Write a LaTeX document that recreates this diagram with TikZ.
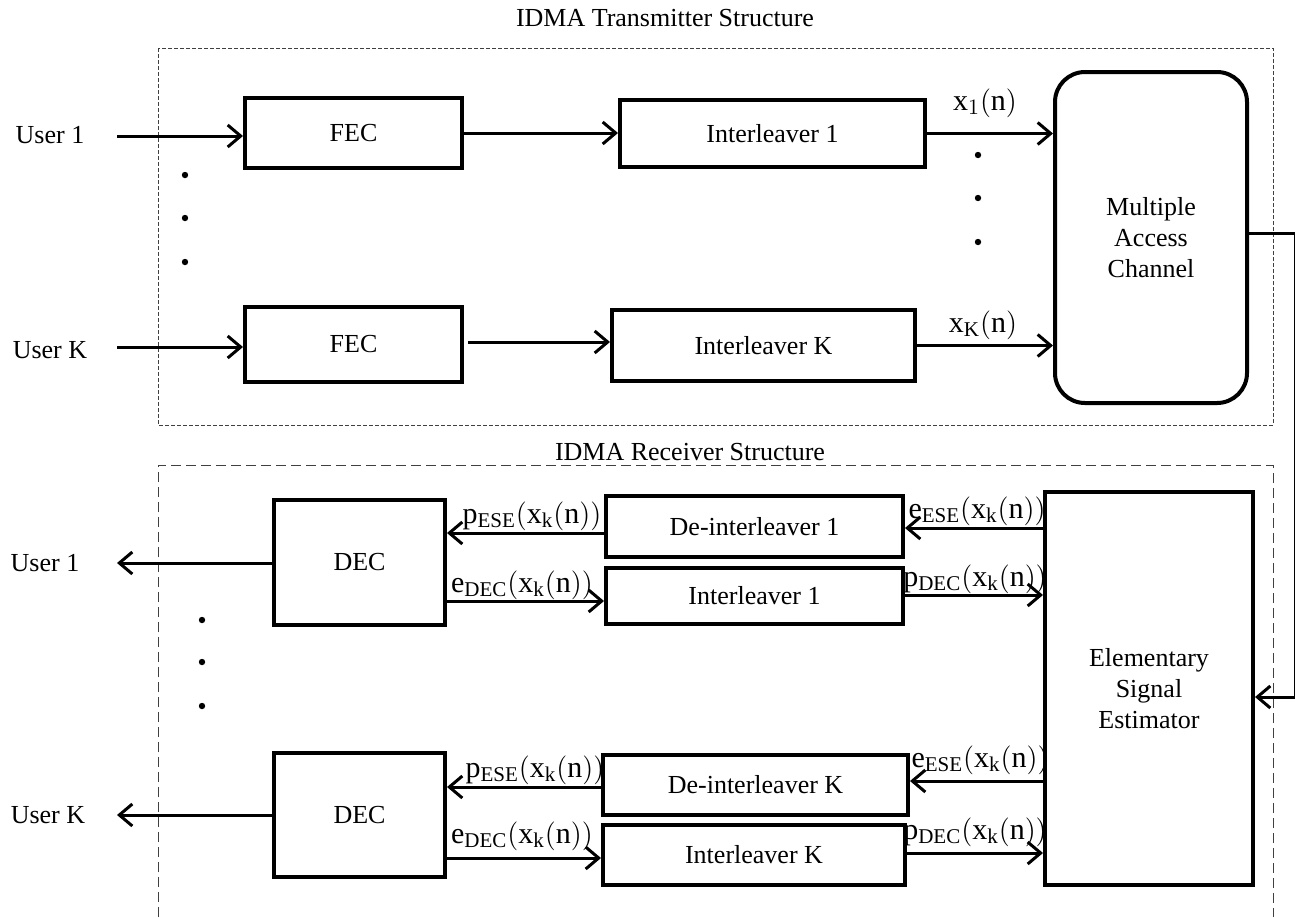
\documentclass[tikz,border=0pt]{standalone}
\usepackage{fontspec}
\setmainfont{Liberation Serif}
\usetikzlibrary{arrows.meta,calc}
\begin{document}
\begin{tikzpicture}[x=0.5pt,y=-0.5pt,
  font=\fontsize{13}{15.5}\selectfont,
  blk/.style={draw,line width=2pt,minimum width=#1,inner sep=0pt,align=center},
  arr/.style={line width=1.5pt,-{Straight Barb[length=6.5pt,width=11pt,line width=1.5pt]}},
  dot/.style={fill,circle,inner sep=0pt,minimum size=3.2pt},
  lbl/.style={inner sep=0pt},
  mlbl/.style={inner sep=0pt,font=\fontsize{15}{17}\selectfont},
  tdash/.style={draw=black!75,line width=0.5pt,dash pattern=on 2pt off 1pt},
  rdash/.style={draw=black!75,line width=0.5pt,dash pattern=on 5pt off 2.5pt}]
\useasboundingbox (0,0) rectangle (1295,917);

% ---------- Transmitter ----------
\node[lbl] (ttitle) at (665,18) {IDMA Transmitter Structure};
\draw[tdash] (158,48) rectangle (1273,425);

\node[lbl] (tu1) at (50,135) {User 1};
\node[lbl] (tuk) at (50,350) {User K};
\coordinate (tu1s) at (117,136);
\coordinate (tuks) at (117,347);

\node[blk=108.5pt,minimum height=35pt] (fec1) at (353.5,133) {FEC};
\node[blk=108.5pt,minimum height=37.5pt] (feck) at (353.5,344.5) {FEC};
\node[blk=152.5pt,minimum height=33.5pt] (il1) at (772.5,133.5) {Interleaver 1};
\node[blk=151.5pt,minimum height=35.5pt] (ilk) at (763.5,345.5) {Interleaver K};
\node[blk=96pt,minimum height=165.5pt,rounded corners=15pt] (mac) at (1151,237.5) {Multiple\\Access\\Channel};

\draw[arr] (tu1s) -- (tu1s -| fec1.west);
\draw[arr] (tuks) -- (tuks -| feck.west);
\draw[arr] (fec1.east) -- (fec1.east -| il1.west);
\draw[arr] ($(feck.east)+(4,-2.5)$) coordinate (fk) -- (fk -| ilk.west);
\draw[arr] (il1.east) -- (il1.east -| mac.west);
\draw[arr] (ilk.east) -- (ilk.east -| mac.west);

\node[mlbl] (lx1) at (985,103) {$\mathrm{x}_1(\mathrm{n})$};
\node[mlbl] (lxk) at (983,325) {$\mathrm{x}_{\mathrm{K}}(\mathrm{n})$};

\node[dot] (td1) at (978,155) {};
\node[dot] (td2) at (978,198) {};
\node[dot] (td3) at (978,242) {};
\node[dot] (ld1) at (185,175) {};
\node[dot] (ld2) at (185,218) {};
\node[dot] (ld3) at (185,262) {};

% ---------- Receiver ----------
\node[lbl] (rtitle) at (690,452) {IDMA Receiver Structure};
\draw[rdash] (158,917) -- (158,465) -- (1273,465) -- (1273,917);

\node[blk=85.5pt,minimum height=62.5pt] (dec1) at (359.5,562.5) {DEC};
\node[blk=85.5pt,minimum height=62pt] (deck) at (359.5,815) {DEC};
\node[blk=148.5pt,minimum height=30.5pt] (dil1) at (754.5,526.5) {De-interleaver 1};
\node[blk=148.5pt,minimum height=28pt] (ril1) at (754.5,596) {Interleaver 1};
\node[blk=152.5pt,minimum height=30pt] (dilk) at (755.5,785) {De-interleaver K};
\node[blk=151pt,minimum height=30pt] (rilk) at (754,855) {Interleaver K};
\node[blk=104pt,minimum height=196.5pt] (ese) at (1149,688.5) {Elementary\\Signal\\Estimator};

\node[lbl] (ru1) at (45,563) {User 1};
\node[lbl] (ruk) at (48,815) {User K};
\coordinate (ru1e) at (117,563);
\coordinate (ruke) at (117,815);
\draw[arr] (ru1e -| dec1.west) -- (ru1e);
\draw[arr] (ruke -| deck.west) -- (ruke);

% user 1 loop
\draw[arr] ($(dil1.west)+(0,6.5)$) coordinate (a1) -- (a1 -| dec1.east);
\draw[arr] ($(dec1.east)+(0,38.5)$) coordinate (a2) -- (a2 -| ril1.west);
\draw[arr] ($(ese.west)+(0,-160.5)$) coordinate (a3) -- (a3 -| dil1.east);
\draw[arr] ($(ril1.east)+(0,-1)$) coordinate (a4) -- (a4 -| ese.west);
% user K loop
\draw[arr] ($(dilk.west)+(0,2)$) coordinate (b1) -- (b1 -| deck.east);
\draw[arr] ($(deck.east)+(0,43)$) coordinate (b2) -- (b2 -| rilk.west);
\draw[arr] ($(ese.west)+(0,92.5)$) coordinate (b3) -- (b3 -| dilk.east);
\draw[arr] ($(rilk.east)+(0,-2)$) coordinate (b4) -- (b4 -| ese.west);

\node[mlbl] (lp1) at (532,516) {$\mathrm{p}_{\mathrm{ESE}}\bigl(\mathrm{x}_{\mathrm{k}}(\mathrm{n})\bigr)$};
\node[mlbl] (le1) at (522,585) {$\mathrm{e}_{\mathrm{DEC}}\bigl(\mathrm{x}_{\mathrm{k}}(\mathrm{n})\bigr)$};
\node[mlbl] (le2) at (977,511) {$\mathrm{e}_{\mathrm{ESE}}\bigl(\mathrm{x}_{\mathrm{k}}(\mathrm{n})\bigr)$};
\node[mlbl] (lp2) at (975,579) {$\mathrm{p}_{\mathrm{DEC}}\bigl(\mathrm{x}_{\mathrm{k}}(\mathrm{n})\bigr)$};
\node[mlbl] (lp3) at (535,770) {$\mathrm{p}_{\mathrm{ESE}}\bigl(\mathrm{x}_{\mathrm{k}}(\mathrm{n})\bigr)$};
\node[mlbl] (le3) at (522,836) {$\mathrm{e}_{\mathrm{DEC}}\bigl(\mathrm{x}_{\mathrm{k}}(\mathrm{n})\bigr)$};
\node[mlbl] (le4) at (980,760) {$\mathrm{e}_{\mathrm{ESE}}\bigl(\mathrm{x}_{\mathrm{k}}(\mathrm{n})\bigr)$};
\node[mlbl] (lp4) at (975,832) {$\mathrm{p}_{\mathrm{DEC}}\bigl(\mathrm{x}_{\mathrm{k}}(\mathrm{n})\bigr)$};

\node[dot] (rd1) at (202,620) {};
\node[dot] (rd2) at (202,662) {};
\node[dot] (rd3) at (202,706) {};

% channel to ESE
\draw[arr] ($(mac.east)+(0,-4.5)$) -- ++(46,0) |- ($(ese.east)+(0,8.5)$);
\end{tikzpicture}
\end{document}
